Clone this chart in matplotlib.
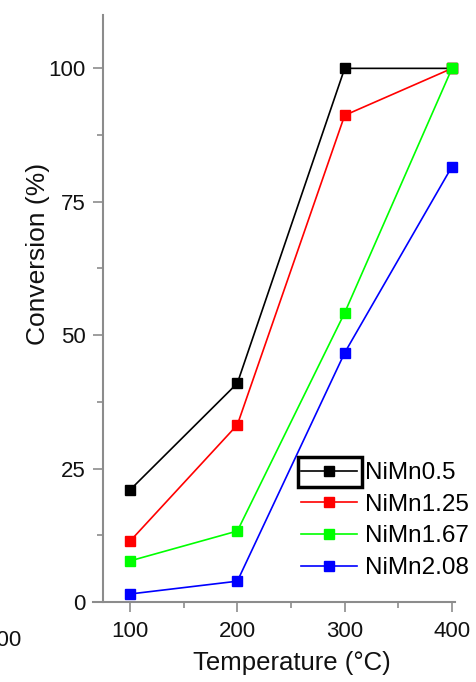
import matplotlib
matplotlib.use("Agg")
import matplotlib.pyplot as plt
from matplotlib.patches import Rectangle
from matplotlib.ticker import MultipleLocator

plt.rcParams['font.family'] = ['Liberation Sans', 'DejaVu Sans']

temperature = [100, 200, 300, 400]
series_names = ["NiMn0.5", "NiMn1.25", "NiMn1.67", "NiMn2.08"]
nimn05 = [21.0, 41.0, 100.0, 100.0]
nimn125 = [11.4, 33.2, 91.2, 100.0]
nimn167 = [7.7, 13.3, 54.2, 100.0]
nimn208 = [1.5, 3.9, 46.7, 81.6]
colors = ["#000000", "#ff0000", "#00ff00", "#0000ff"]
yticks = [0, 25, 50, 75, 100]
xticks = [100, 200, 300, 400]

fig = plt.figure(figsize=(4.76, 6.82), dpi=100)
ax = fig.add_axes([93/476, (682-602)/682, (455-93)/476, (602-15)/682])

for vals, c, name in zip([nimn05, nimn125, nimn167, nimn208], colors, series_names):
    ax.plot(temperature, vals, color=c, lw=1.2, marker='s', ms=7.5,
            mec=c, mfc=c, label=name, clip_on=False, zorder=3)

ax.set_xlim(65.5, 402.8)
ax.set_ylim(0, 110)
ax.spines['top'].set_visible(False)
ax.spines['right'].set_visible(False)
ax.spines['left'].set_position(('data', 74.8))
ax.spines['bottom'].set_position(('data', 0))
for s in ['left', 'bottom']:
    ax.spines[s].set_color('#8c8c8c')
    ax.spines[s].set_linewidth(1.5)

ax.set_xticks(xticks)
ax.set_yticks(yticks)
ax.xaxis.set_minor_locator(MultipleLocator(50))
ax.yaxis.set_minor_locator(MultipleLocator(12.5))
ax.tick_params(which='major', direction='out', length=7.5, width=1.2,
               color='#8c8c8c', labelsize=16, labelcolor='#111111', pad=6)
ax.tick_params(which='minor', direction='out', length=4, width=1.2, color='#8c8c8c')
ax.tick_params(axis='y', which='major', pad=5)

fig.text(292/476, 1 - 663/682, "Temperature (\u00b0C)", ha='center', va='center',
         fontsize=18.5, color='#111111')
fig.text(38/476, 1 - 254/682, "Conversion (%)", ha='center', va='center',
         rotation=90, fontsize=19, color='#111111')
fig.text(22/476, 1 - 641/682, "100", ha='right', va='center', fontsize=16, color='#111111')

leg = ax.legend(loc='upper left', bbox_to_anchor=(301/476, 1 - 462/682),
                bbox_transform=fig.transFigure, frameon=False, fontsize=17.5,
                handlelength=2.3, handletextpad=0.35, labelspacing=0.4,
                borderpad=0.0, borderaxespad=0.0)

fig.patches.append(Rectangle((298/476, 1 - 487/682), 64/476, 30/682,
                             transform=fig.transFigure, fill=False,
                             edgecolor='black', linewidth=2.5, zorder=5))

fig.savefig("out.png", dpi=100)
